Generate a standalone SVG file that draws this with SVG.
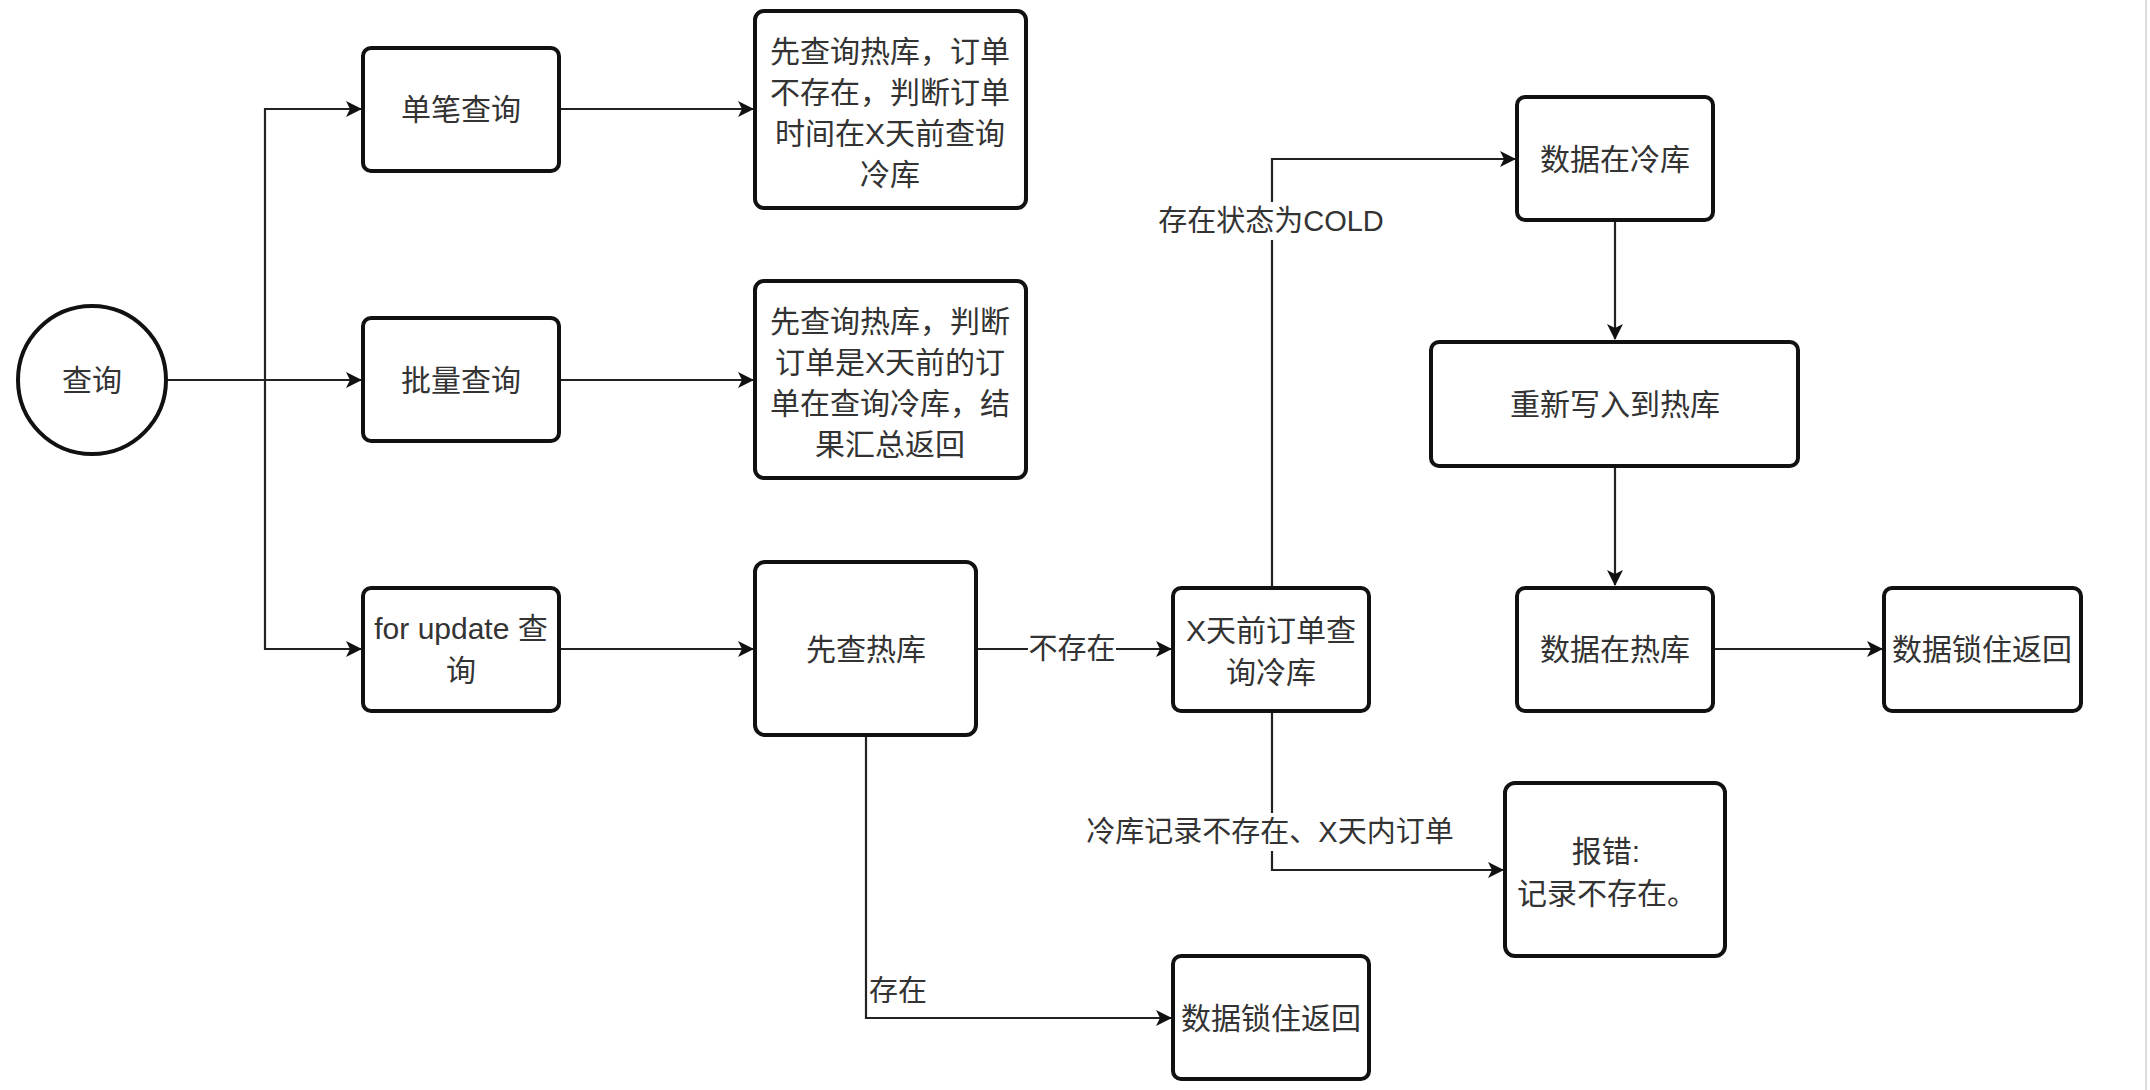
<svg xmlns="http://www.w3.org/2000/svg" width="2150" height="1090" viewBox="0 0 2150 1090">
<style>
.box{fill:#fff;stroke:#111;stroke-width:4}
.t{font-family:"Liberation Sans","Noto Sans CJK SC",sans-serif;font-size:30px;fill:#333;text-anchor:middle;dominant-baseline:central}
.lbl{font-family:"Liberation Sans","Noto Sans CJK SC",sans-serif;font-size:29px;fill:#333;dominant-baseline:central}
.c{fill:none;stroke:#222;stroke-width:2.2}
</style>
<defs>
<marker id="arr" markerUnits="userSpaceOnUse" markerWidth="16" markerHeight="16" refX="15" refY="8" orient="auto">
<path d="M0,0 L16,8 L0,16 L4,8 Z" fill="#111"/>
</marker>
</defs>
<rect width="2150" height="1090" fill="#fff"/>
<line x1="2146" y1="0" x2="2146" y2="1090" stroke="#ddd" stroke-width="2"/>
<g id="connectors">
<path class="c" d="M166,380 L361,380" marker-end="url(#arr)"/>
<path class="c" d="M265,380 L265,109 L361,109" marker-end="url(#arr)"/>
<path class="c" d="M265,380 L265,649 L361,649" marker-end="url(#arr)"/>
<path class="c" d="M559,109 L753,109" marker-end="url(#arr)"/>
<path class="c" d="M559,380 L753,380" marker-end="url(#arr)"/>
<path class="c" d="M559,649 L753,649" marker-end="url(#arr)"/>
<path class="c" d="M977,649 L1171,649" marker-end="url(#arr)"/>
<path class="c" d="M866,736 L866,1018 L1171,1018" marker-end="url(#arr)"/>
<path class="c" d="M1272,587 L1272,159 L1515,159" marker-end="url(#arr)"/>
<path class="c" d="M1272,712 L1272,870 L1503,870" marker-end="url(#arr)"/>
<path class="c" d="M1615,221 L1615,339" marker-end="url(#arr)"/>
<path class="c" d="M1615,466 L1615,585" marker-end="url(#arr)"/>
<path class="c" d="M1713,649 L1882,649" marker-end="url(#arr)"/>
<rect x="1028" y="632" width="88" height="34" fill="#fff"/>
<text class="lbl" x="1072" y="649" text-anchor="middle">不存在</text>
<text class="lbl" x="869" y="991">存在</text>
<rect x="1160" y="202" width="222" height="38" fill="#fff"/>
<text class="lbl" x="1271" y="221" text-anchor="middle">存在状态为COLD</text>
<rect x="1088" y="813" width="364" height="38" fill="#fff"/>
<text class="lbl" x="1270" y="832" text-anchor="middle">冷库记录不存在、X天内订单</text>
</g>
<g id="n-query"><circle cx="92" cy="380" r="74" fill="#fff" stroke="#111" stroke-width="4"/><text class="t" x="92" y="380">查询</text></g>
<g id="n-single"><rect class="box" x="363" y="48" width="196" height="123" rx="8"/><text class="t" x="461" y="109">单笔查询</text></g>
<g id="n-single-desc"><rect class="box" x="755" y="11" width="271" height="197" rx="9"/>
<text class="t" x="890" y="51">先查询热库，订单</text><text class="t" x="890" y="92">不存在，判断订单</text><text class="t" x="890" y="133">时间在X天前查询</text><text class="t" x="890" y="174">冷库</text></g>
<g id="n-batch"><rect class="box" x="363" y="318" width="196" height="123" rx="8"/><text class="t" x="461" y="380">批量查询</text></g>
<g id="n-batch-desc"><rect class="box" x="755" y="281" width="271" height="197" rx="9"/>
<text class="t" x="890" y="321">先查询热库，判断</text><text class="t" x="890" y="362">订单是X天前的订</text><text class="t" x="890" y="403">单在查询冷库，结</text><text class="t" x="890" y="444">果汇总返回</text></g>
<g id="n-forupdate"><rect class="box" x="363" y="588" width="196" height="123" rx="8"/><text class="t" x="461" y="628">for update 查</text><text class="t" x="461" y="670">询</text></g>
<g id="n-hot-first"><rect class="box" x="755" y="562" width="221" height="173" rx="10"/><text class="t" x="866" y="649">先查热库</text></g>
<g id="n-cold-query"><rect class="box" x="1173" y="588" width="196" height="123" rx="8"/><text class="t" x="1271" y="630">X天前订单查</text><text class="t" x="1271" y="672">询冷库</text></g>
<g id="n-in-cold"><rect class="box" x="1517" y="97" width="196" height="123" rx="8"/><text class="t" x="1615" y="159">数据在冷库</text></g>
<g id="n-rewrite"><rect class="box" x="1431" y="342" width="367" height="124" rx="8"/><text class="t" x="1615" y="404">重新写入到热库</text></g>
<g id="n-in-hot"><rect class="box" x="1517" y="588" width="196" height="123" rx="8"/><text class="t" x="1615" y="649">数据在热库</text></g>
<g id="n-lock-right"><rect class="box" x="1884" y="588" width="197" height="123" rx="8"/><text class="t" x="1982" y="649">数据锁住返回</text></g>
<g id="n-error"><rect class="box" x="1505" y="783" width="220" height="173" rx="10"/><text class="t" x="1606" y="851">报错:</text><text class="t" x="1607" y="893">记录不存在。</text></g>
<g id="n-lock-bottom"><rect class="box" x="1173" y="956" width="196" height="123" rx="8"/><text class="t" x="1271" y="1018">数据锁住返回</text></g>
</svg>
